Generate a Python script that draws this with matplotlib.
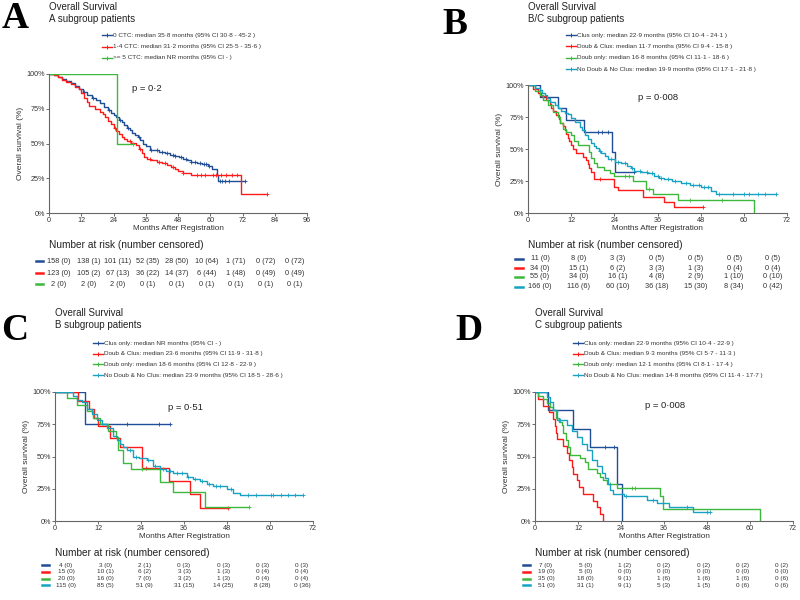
import numpy as np
import matplotlib
matplotlib.use('Agg')
import matplotlib.pyplot as plt
from matplotlib.lines import Line2D

plt.rcParams['font.family'] = ['Liberation Sans', 'DejaVu Sans']

AZUL = '#1f4e96'
ROJO = '#ff1a1a'
VERDE = '#3cb83c'
CIAN = '#17a2c4'

# ---------------- Panel A: CTC ----------------
a_ctc0_t = [0, 2, 3.5, 5, 6.5, 8, 9.5, 11, 12.5, 14, 16, 17.5, 19, 20.5, 22, 23, 24, 25, 26, 27,
            28, 29, 30, 31, 32, 33, 34, 35, 36, 37.5, 39, 41, 43, 45, 47, 48.5, 50, 51.5, 53, 55,
            57, 59, 60.5, 62.4, 62.8]
a_ctc0_s = [1.0, 0.99, 0.98, 0.965, 0.95, 0.935, 0.915, 0.895, 0.87, 0.85, 0.825, 0.81, 0.79, 0.765, 0.74,
            0.72, 0.705, 0.69, 0.67, 0.655, 0.635, 0.615, 0.595, 0.575, 0.56, 0.545, 0.525, 0.50, 0.48,
            0.455, 0.45, 0.44, 0.43, 0.42, 0.41, 0.40, 0.39, 0.38, 0.37, 0.36, 0.35, 0.335, 0.315,
            0.275, 0.232]
a_ctc0_cens = [13, 16.5, 22.5, 26.5, 29.5, 33.5, 38, 40, 42, 44, 46, 47, 49, 51, 53, 54.5, 56, 57.5,
               58.5, 59.5, 63.5, 64.5, 65.5, 67, 73]

a_ctc14_t = [0, 2, 3.5, 5, 6.5, 8, 9.5, 11, 12, 13, 14, 15, 17, 19, 20, 21, 22, 23, 24, 25,
             26, 27, 28, 29, 30.5, 32.5, 33.5, 34.5, 35.5, 36.5, 38, 40, 42, 44, 45.5, 47, 48, 50, 53, 71.3]
a_ctc14_s = [1.0, 0.99, 0.975, 0.96, 0.945, 0.93, 0.91, 0.89, 0.865, 0.83, 0.80, 0.77, 0.75, 0.73, 0.71,
             0.69, 0.665, 0.64, 0.615, 0.59, 0.57, 0.55, 0.535, 0.52, 0.505, 0.49, 0.46, 0.43, 0.40,
             0.39, 0.38, 0.37, 0.36, 0.345, 0.33, 0.315, 0.30, 0.29, 0.273, 0.134]
a_ctc14_cens = [24.5, 30, 34, 37.5, 41, 43, 46, 50, 55, 56.5, 58, 61, 62, 64, 66, 68, 70, 81]

a_ctc5_t = [0, 25.3]
a_ctc5_s = [1.0, 0.5]
a_ctc5_cens = [31.3]

a_riesgo = [[158, 138, 101, 52, 28, 10, 1, 0, 0],
            [123, 105, 67, 36, 14, 6, 1, 0, 0],
            [2, 2, 2, 0, 0, 0, 0, 0, 0]]
a_censurados = [[0, 1, 11, 35, 50, 64, 71, 72, 72],
                [0, 2, 13, 22, 37, 44, 48, 49, 49],
                [0, 0, 0, 1, 1, 1, 1, 1, 1]]
a_leyenda = ['0 CTC: median 35·8 months (95% CI 30·8 - 45·2 )',
             '1-4 CTC: median 31·2 months (95% CI 25·5 - 35·6 )',
             '>= 5 CTC: median NR months (95% CI - )']

# ---------------- Panel B: B/C ----------------
b_clus_t = [0, 3.4, 8.4, 10.6, 15.7, 23.4, 24.3]
b_clus_s = [1.0, 0.909, 0.818, 0.727, 0.636, 0.477, 0.318]
b_clus_cens = [19.4, 20.6, 22.2, 29.5]

b_dc_t = [0, 1.5, 2.7, 3.5, 5.0, 6.0, 6.4, 7.0, 7.8, 8.5, 9.0, 9.6, 10.2, 10.6, 11.0, 11.5, 11.9, 12.4,
          13.4, 15.2, 16.1, 16.6, 17.0, 17.5, 18.4, 24.0, 25.0, 31.9, 37.9, 40.5]
b_dc_s = [1.0, 0.971, 0.941, 0.912, 0.882, 0.853, 0.824, 0.794, 0.765, 0.735, 0.706, 0.676, 0.647, 0.618,
          0.588, 0.559, 0.529, 0.50, 0.47, 0.441, 0.412, 0.382, 0.353, 0.324, 0.265, 0.20, 0.178, 0.122,
          0.083, 0.044]
b_dc_cens = [20, 48.6]

b_doub_t = [0, 1.9, 3.2, 4.2, 5.6, 7.0, 8.3, 8.8, 9.7, 10.6, 12.0, 12.9, 13.8, 17.0, 17.5, 18.4, 19.3,
            21.1, 22.9, 23.8, 29.1, 32.8, 34.7, 41.6, 62.9]
b_doub_s = [1.0, 0.95, 0.92, 0.88, 0.84, 0.79, 0.75, 0.70, 0.66, 0.635, 0.61, 0.56, 0.53, 0.48, 0.427,
            0.39, 0.36, 0.336, 0.315, 0.29, 0.25, 0.19, 0.15, 0.10, 0.0]
b_doub_cens = [27, 28, 33.5, 45, 54]

b_none_t = [0, 2.0, 3.2, 4.0, 4.6, 5.3, 6.0, 7.4, 8.3, 9.3, 10.2, 11.1, 12.0, 13.0, 14.4, 15.1, 15.8,
            16.7, 17.6, 18.3, 19.0, 19.7, 20.4, 21.3, 22.2, 24.1, 25.9, 27.5, 28.6, 29.6, 31.5, 33.2,
            35.0, 36.5, 37.9, 40.0, 42.5, 45.0, 48.1, 50.9, 52.3]
b_none_s = [1.0, 0.98, 0.96, 0.94, 0.92, 0.895, 0.87, 0.84, 0.82, 0.80, 0.785, 0.77, 0.74, 0.71, 0.675,
            0.645, 0.61, 0.58, 0.545, 0.525, 0.505, 0.485, 0.466, 0.445, 0.42, 0.40, 0.39, 0.37, 0.35,
            0.33, 0.32, 0.31, 0.29, 0.275, 0.263, 0.248, 0.232, 0.216, 0.20, 0.172, 0.148]
b_none_cens = [20, 23, 25, 27, 29, 31, 33, 34.5, 36, 37, 39, 41, 44, 46, 47.5, 49, 50, 53, 57, 60,
               61.5, 64, 66, 68.9]

b_riesgo = [[11, 8, 3, 0, 0, 0, 0],
            [34, 15, 6, 3, 1, 0, 0],
            [55, 34, 16, 4, 2, 1, 0],
            [166, 116, 60, 36, 15, 8, 0]]
b_censurados = [[0, 0, 3, 5, 5, 5, 5],
                [0, 1, 2, 3, 3, 4, 4],
                [0, 0, 1, 8, 9, 10, 10],
                [0, 6, 10, 18, 30, 34, 42]]
b_leyenda = ['Clus only: median 22·9 months (95% CI 10·4 - 24·1 )',
             'Doub & Clus: median 11·7 months (95% CI 9·4 - 15·8 )',
             'Doub only: median 16·8 months (95% CI 11·1 - 18·6 )',
             'No Doub & No Clus: median 19·9 months (95% CI 17·1 - 21·8 )']

# ---------------- Panel C: B ----------------
c_clus_t = [0, 8.4]
c_clus_s = [1.0, 0.75]
c_clus_cens = [20, 29.1, 32.1]

c_dc_t = [0, 6.5, 9.6, 11.0, 12.1, 15.3, 18.0, 24.3, 31.9, 37.7, 40.5]
c_dc_s = [1.0, 0.933, 0.867, 0.80, 0.733, 0.647, 0.574, 0.41, 0.31, 0.207, 0.103]
c_dc_cens = [25.5, 48.4]

c_doub_t = [0, 3.3, 6.2, 8.8, 10.7, 12.6, 14.9, 17.0, 17.7, 19.1, 21.1, 29.3, 33.0, 41.9]
c_doub_s = [1.0, 0.95, 0.90, 0.85, 0.80, 0.75, 0.70, 0.65, 0.55, 0.45, 0.40, 0.30, 0.225, 0.105]
c_doub_cens = [24.2, 54.2]

c_none_t = [0, 5.1, 6.0, 7.4, 8.8, 10.2, 11.6, 13.0, 14.4, 16.3, 17.2, 18.1, 19.0, 20.0, 21.9, 23.5,
            25.6, 27.4, 29.3, 31.0, 33.0, 36.7, 38.5, 40.5, 42.5, 44.2, 47.9, 49.8, 51.6]
c_none_s = [1.0, 0.97, 0.94, 0.92, 0.87, 0.83, 0.78, 0.75, 0.72, 0.66, 0.63, 0.60, 0.575, 0.55, 0.50,
            0.485, 0.47, 0.43, 0.40, 0.385, 0.37, 0.34, 0.325, 0.31, 0.29, 0.27, 0.245, 0.22, 0.20]
c_none_cens = [21, 22.5, 26, 28, 30, 32, 34, 35.5, 37, 39, 41, 43, 45, 46, 49, 54, 56, 60.3, 60.8,
               63, 65, 67, 69.3]

c_riesgo = [[4, 3, 2, 0, 0, 0, 0],
            [15, 10, 6, 3, 1, 0, 0],
            [20, 16, 7, 3, 1, 0, 0],
            [115, 85, 51, 31, 14, 8, 0]]
c_censurados = [[0, 0, 1, 3, 3, 3, 3],
                [0, 1, 2, 3, 3, 4, 4],
                [0, 0, 0, 2, 3, 4, 4],
                [0, 5, 9, 15, 25, 28, 36]]
c_leyenda = ['Clus only: median NR months (95% CI - )',
             'Doub & Clus: median 23·6 months (95% CI 11·9 - 31·8 )',
             'Doub only: median 18·6 months (95% CI 12·8 - 22·9 )',
             'No Doub & No Clus: median 23·9 months (95% CI 18·5 - 28·6 )']

# ---------------- Panel D: C ----------------
d_clus_t = [0, 3.5, 10.5, 15.3, 23.0, 24.2]
d_clus_s = [1.0, 0.857, 0.714, 0.571, 0.286, 0.0]
d_clus_cens = [19.5, 22.0]

d_dc_t = [0, 0.9, 2.3, 3.9, 5.1, 5.6, 5.9, 6.2, 7.9, 8.8, 9.6, 10.2, 10.7, 11.6, 12.3, 13.5, 16.1,
          17.2, 18.0, 19.1]
d_dc_s = [1.0, 0.947, 0.895, 0.842, 0.789, 0.737, 0.684, 0.632, 0.579, 0.526, 0.474, 0.421, 0.368,
          0.316, 0.263, 0.211, 0.158, 0.105, 0.053, 0.0]
d_dc_cens = []

d_doub_t = [0, 0.9, 2.3, 3.3, 4.2, 5.1, 5.9, 6.8, 7.4, 7.9, 8.6, 9.3, 9.8, 12.6, 14.0, 14.9, 17.2,
            18.1, 19.1, 20.0, 22.8, 34.9, 35.8, 62.8]
d_doub_s = [1.0, 0.971, 0.943, 0.914, 0.886, 0.857, 0.80, 0.771, 0.743, 0.686, 0.629, 0.571, 0.514,
            0.486, 0.457, 0.40, 0.371, 0.343, 0.314, 0.286, 0.257, 0.19, 0.095, 0.0]
d_doub_cens = [20.9, 27.2, 27.9]

d_none_t = [0, 3.3, 4.2, 5.1, 6.0, 8.8, 10.2, 11.6, 13.0, 14.4, 15.8, 17.2, 18.6, 19.5, 20.5, 20.9,
            21.9, 24.7, 31.2, 34.0, 37.5, 44.2]
d_none_s = [1.0, 0.96, 0.92, 0.86, 0.78, 0.745, 0.70, 0.65, 0.60, 0.55, 0.47, 0.43, 0.37, 0.33, 0.29,
            0.24, 0.21, 0.19, 0.165, 0.14, 0.11, 0.07]
d_none_cens = [7.0, 25.3, 33, 42.3, 48.0, 48.8]

d_riesgo = [[7, 5, 1, 0, 0, 0, 0],
            [19, 5, 0, 0, 0, 0, 0],
            [35, 18, 9, 1, 1, 1, 0],
            [51, 31, 9, 5, 1, 0, 0]]
d_censurados = [[0, 0, 2, 2, 2, 2, 2],
                [0, 0, 0, 0, 0, 0, 0],
                [0, 0, 1, 6, 6, 6, 6],
                [0, 1, 1, 3, 5, 6, 6]]
d_leyenda = ['Clus only: median 22·9 months (95% CI 10·4 - 22·9 )',
             'Doub & Clus: median 9·3 months (95% CI 5·7 - 11·3 )',
             'Doub only: median 12·1 months (95% CI 8·1 - 17·4 )',
             'No Doub & No Clus: median 14·8 months (95% CI 11·4 - 17·7 )']

W, H = 800, 600
fig = plt.figure(figsize=(8, 6), dpi=100)


def fx(x):
    return x / W


def fy(y):
    return 1 - y / H


def texto(x, y, s, **kw):
    fig.text(fx(x), fy(y), s, **kw)


def linea_fig(x0, x1, y, color, lw, marker=None):
    fig.add_artist(Line2D([fx(x0), fx(x1)], [fy(y), fy(y)], transform=fig.transFigure,
                          color=color, lw=lw))
    if marker:
        fig.add_artist(Line2D([fx((x0 + x1) / 2)], [fy(y)], transform=fig.transFigure,
                              color=color, marker=marker, ms=3.5, mew=0.7, ls='none'))


def curva(ax, t, s, cens, color):
    t = list(t)
    s = list(s)
    fin = max([t[-1]] + list(cens))
    if s[-1] > 0 and fin > t[-1]:
        t.append(fin)
        s.append(s[-1])
    ax.step(t, s, where='post', color=color, lw=1.0)
    for c in cens:
        i = np.searchsorted(t, c, side='right') - 1
        ax.plot(c, s[i], marker='+', color=color, ms=3.5, mew=0.6, ls='none')


def panel(caja, xmax, curvas, colores, letra, pos_letra, pos_titulo, subtitulo,
          pos_leyenda, leyenda, paso_leyenda, pval, pos_p, pos_xlabel,
          riesgo, censurados, pos_riesgo, filas_y, cols_x, guion_x, fs_tabla):
    x0, y0, x1, y1 = caja
    ax = fig.add_axes([fx(x0), fy(y1), fx(x1) - fx(x0), fy(y0) - fy(y1)])
    for (t, s, c), col in zip(curvas, colores):
        curva(ax, t, s, c, col)
    ax.set_xlim(0, xmax)
    ax.set_ylim(0, 1)
    ax.set_xticks(np.arange(0, xmax + 1, 12))
    ax.set_yticks([0, 0.25, 0.5, 0.75, 1.0])
    ax.set_yticklabels(['0%', '25%', '50%', '75%', '100%'])
    ax.tick_params(labelsize=5.2, length=2, width=0.6, colors='#555555', labelcolor='#333333', pad=1)
    for lado in ['top', 'right']:
        ax.spines[lado].set_visible(False)
    for lado in ['left', 'bottom']:
        ax.spines[lado].set_color('#666666')
        ax.spines[lado].set_linewidth(0.8)
    ax.set_ylabel('Overall survival (%)', fontsize=6, color='#333333', labelpad=2)
    texto((x0 + x1) / 2, pos_xlabel, 'Months After Registration', fontsize=5.9,
          color='#333333', ha='center', va='center')
    texto(pos_p[0], pos_p[1], pval, fontsize=6.8, color='#222222', ha='left', va='center')

    texto(pos_letra[0], pos_letra[1], letra, fontsize=27, fontweight='bold',
          family='Liberation Serif', ha='center', va='center')
    texto(pos_titulo[0], pos_titulo[1], 'Overall Survival', fontsize=7, color='#222222',
          ha='left', va='center')
    texto(pos_titulo[0], pos_titulo[1] + 12, subtitulo, fontsize=7, color='#222222',
          ha='left', va='center')

    lx, ly = pos_leyenda
    for i, (lab, col) in enumerate(zip(leyenda, colores)):
        yy = ly + i * paso_leyenda
        linea_fig(lx, lx + 10, yy, col, 1.0, marker='+')
        texto(lx + 11, yy, lab, fontsize=4.6, color='#333333', ha='left', va='center')

    texto(pos_riesgo[0], pos_riesgo[1], 'Number at risk (number censored)', fontsize=7.3,
          color='#222222', ha='left', va='center')
    for fila, cen, col, yy in zip(riesgo, censurados, colores, filas_y):
        linea_fig(guion_x[0], guion_x[1], yy, col, 1.8)
        for n, c, xx in zip(fila, cen, cols_x):
            texto(xx, yy, f'{n} ({c})', fontsize=fs_tabla, color='#333333',
                  ha='center', va='center')
    return ax


colores4 = [AZUL, ROJO, VERDE, CIAN]

panel((49, 74, 307, 213), 96,
      [(a_ctc0_t, a_ctc0_s, a_ctc0_cens), (a_ctc14_t, a_ctc14_s, a_ctc14_cens),
       (a_ctc5_t, a_ctc5_s, a_ctc5_cens)],
      [AZUL, ROJO, VERDE], 'A', (15, 19), (49, 7), 'A subgroup patients',
      (102, 35), a_leyenda, 11.5, 'p = 0·2', (132, 88), 228,
      a_riesgo, a_censurados, (49, 245), [261, 273, 284], np.linspace(59, 295, 9), (36, 43), 5.3)

panel((528, 85, 787, 213), 72,
      [(b_clus_t, b_clus_s, b_clus_cens), (b_dc_t, b_dc_s, b_dc_cens),
       (b_doub_t, b_doub_s, b_doub_cens), (b_none_t, b_none_s, b_none_cens)],
      colores4, 'B', (455, 25), (528, 7), 'B/C subgroup patients',
      (566, 35), b_leyenda, 11.4, 'p = 0·008', (638, 98), 228,
      b_riesgo, b_censurados, (528, 245), [259, 268, 277, 287], np.linspace(540, 773, 7), (515, 523), 5.3)

panel((55, 392, 313, 521), 72,
      [(c_clus_t, c_clus_s, c_clus_cens), (c_dc_t, c_dc_s, c_dc_cens),
       (c_doub_t, c_doub_s, c_doub_cens), (c_none_t, c_none_s, c_none_cens)],
      colores4, 'C', (15, 331), (55, 313), 'B subgroup patients',
      (93, 343), c_leyenda, 10.7, 'p = 0·51', (168, 407), 536,
      c_riesgo, c_censurados, (55, 553), [565, 572, 578.5, 585], np.linspace(66, 302, 7), (42, 49), 4.6)

panel((535, 392, 793, 521), 72,
      [(d_clus_t, d_clus_s, d_clus_cens), (d_dc_t, d_dc_s, d_dc_cens),
       (d_doub_t, d_doub_s, d_doub_cens), (d_none_t, d_none_s, d_none_cens)],
      colores4, 'D', (469, 331), (535, 313), 'C subgroup patients',
      (573, 343), d_leyenda, 10.7, 'p = 0·008', (645, 405), 536,
      d_riesgo, d_censurados, (535, 553), [565, 572, 578.5, 585], np.linspace(546, 782, 7), (523, 530), 4.6)

fig.savefig('out.png', dpi=100)
